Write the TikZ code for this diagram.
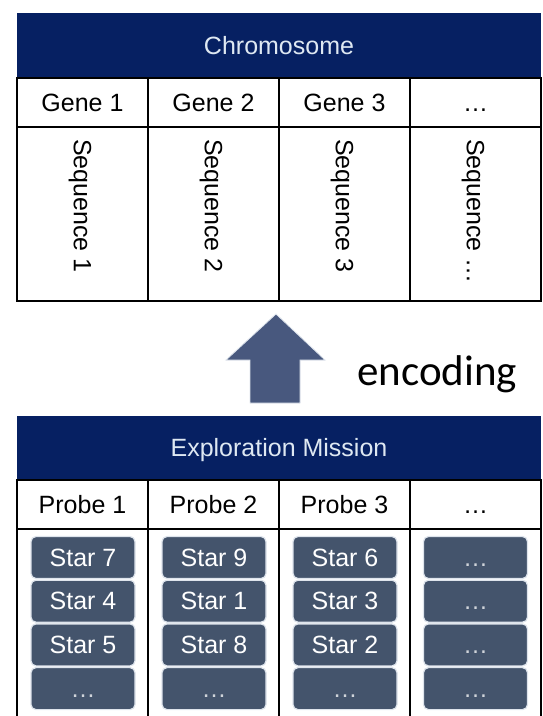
\documentclass[tikz,border=0pt]{standalone}
\usepackage{fontspec}
\setmainfont{Liberation Sans}
\newfontfamily\calibri{Carlito}
\usepackage{tikz}
\definecolor{navyHead}{RGB}{6,32,98}
\definecolor{headText}{RGB}{222,232,242}
\definecolor{slateBox}{RGB}{68,84,108}
\definecolor{slateArrow}{RGB}{72,88,126}
\definecolor{boxEdge}{RGB}{222,228,236}

\begin{document}
\begin{tikzpicture}[x=1pt,y=-1pt,
  txt/.style={font=\fontsize{25}{30}\selectfont, text height=22.6pt, text depth=5.3pt},
  header/.style={txt, fill=navyHead, text=headText, minimum width=524pt, minimum height=65pt, inner sep=0pt},
  cell/.style={txt, draw, line width=1.5pt, minimum width=131pt, minimum height=49pt, inner sep=0pt},
  tallcell/.style={draw, line width=1.5pt, minimum width=131pt, minimum height=174pt, inner sep=0pt},
  seqtext/.style={txt, rotate=-90, anchor=west, inner sep=0pt},
  star/.style={txt, fill=slateBox, draw=boxEdge, line width=1.2pt, rounded corners=5pt, minimum width=104pt, minimum height=42pt, inner sep=0pt, text=white},
  dotstar/.style={star, text=white!75!slateBox}
]

\useasboundingbox (0,0) rectangle (543,716);
\clip (0,0) rectangle (543,716);

\node[header] (chromHead) at (279,45.5) {Chromosome};

\node[cell] (geneA) at (82.5,102.5) {Gene 1};
\node[cell] (geneB) at (213.5,102.5) {Gene 2};
\node[cell] (geneC) at (344.5,102.5) {Gene 3};
\node[cell] (geneD) at (475.5,102.5) {…};

\node[tallcell] (seqCellA) at (82.5,214) {};
\node[tallcell] (seqCellB) at (213.5,214) {};
\node[tallcell] (seqCellC) at (344.5,214) {};
\node[tallcell] (seqCellD) at (475.5,214) {};

\node[seqtext] (seqA) at (82.5,139) {Sequence 1};
\node[seqtext] (seqB) at (213.5,139) {Sequence 2};
\node[seqtext] (seqC) at (344.5,139) {Sequence 3};
\node[seqtext] (seqD) at (475.5,139) {Sequence …};

\draw[fill=slateArrow, draw=boxEdge, line width=0.8pt] (250,403) -- (250,360) -- (226,360) -- (276,314) -- (325,360) -- (300,360) -- (300,403) -- cycle;
\node[anchor=base west, inner sep=0pt, font=\calibri\fontsize{43}{51}\selectfont] (encLabel) at (357,385) {encoding};

\node[header, minimum height=64pt] (missionHead) at (279,448) {Exploration Mission};

\node[cell] (probeA) at (82.5,504.5) {Probe 1};
\node[cell] (probeB) at (213.5,504.5) {Probe 2};
\node[cell] (probeC) at (344.5,504.5) {Probe 3};
\node[cell] (probeD) at (475.5,504.5) {…};

\node[tallcell, minimum height=220pt] (starCellA) at (82.5,639) {};
\node[tallcell, minimum height=220pt] (starCellB) at (213.5,639) {};
\node[tallcell, minimum height=220pt] (starCellC) at (344.5,639) {};
\node[tallcell, minimum height=220pt] (starCellD) at (475.5,639) {};

\node[star] (starAa) at (83,557.5) {Star 7};
\node[star] (starAb) at (83,601.2) {Star 4};
\node[star] (starAc) at (83,644.9) {Star 5};
\node[dotstar] (starAd) at (83,688.6) {…};

\node[star] (starBa) at (214,557.5) {Star 9};
\node[star] (starBb) at (214,601.2) {Star 1};
\node[star] (starBc) at (214,644.9) {Star 8};
\node[dotstar] (starBd) at (214,688.6) {…};

\node[star] (starCa) at (345,557.5) {Star 6};
\node[star] (starCb) at (345,601.2) {Star 3};
\node[star] (starCc) at (345,644.9) {Star 2};
\node[dotstar] (starCd) at (345,688.6) {…};

\node[dotstar] (starDa) at (475.5,557.5) {…};
\node[dotstar] (starDb) at (475.5,601.2) {…};
\node[dotstar] (starDc) at (475.5,644.9) {…};
\node[dotstar] (starDd) at (475.5,688.6) {…};

\end{tikzpicture}
\end{document}
